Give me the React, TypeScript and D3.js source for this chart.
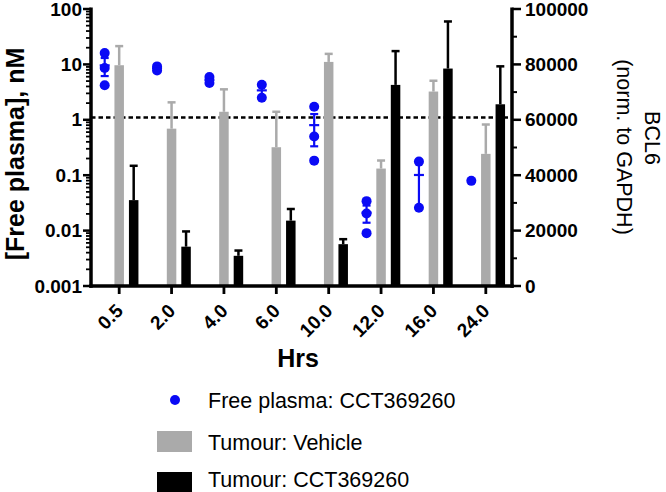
import React from "react";
import * as d3 from "d3";

const categories = ["0.5", "2.0", "4.0", "6.0", "10.0", "12.0", "16.0", "24.0"];
const plasmaValues: number[][] = [
  [16, 8.6, 4.2],
  [9.2, 7.8],
  [5.9, 4.6],
  [4.3, 2.5],
  [1.72, 0.5, 0.183],
  [0.034, 0.0203, 0.009],
  [0.176, 0.0258],
  [0.079],
];
const vehicleMean = [79700, 56800, 62900, 50100, 80900, 42400, 70200, 47700];
const vehicleSem = [6900, 9500, 8100, 12800, 2900, 2900, 3900, 10600];
const cctMean = [31000, 14200, 10900, 23600, 15100, 72600, 78500, 65600];
const cctSem = [12400, 5500, 1900, 4200, 1800, 12200, 17000, 13700];
const leftTicks = [0.001, 0.01, 0.1, 1, 10, 100];
const leftTickLabels = ["0.001", "0.01", "0.1", "1", "10", "100"];
const rightTicks = [0, 20000, 40000, 60000, 80000, 100000];
const rightMinor = [10000, 30000, 50000, 70000, 90000];
const threshold = 1.1;
const legendLabels = ["Free plasma: CCT369260", "Tumour: Vehicle", "Tumour: CCT369260"];

const W = 666, H = 492;
const BLUE = "#0a0af5";
const GRAY = "#aaaaaa";
const FONT = "'Liberation Sans', Arial, sans-serif";

export default function App() {
  const x = d3.scaleBand<string>().domain(categories).range([93, 512]);
  const yL = d3.scaleLog().domain([0.001, 100]).range([286, 9]);
  const yR = d3.scaleLinear().domain([0, 100000]).range([286, 9]);
  const cx = (c: string) => (x(c) as number) + x.bandwidth() / 2;
  const axL = 91, axR = 512, axB = 286;
  const barW = 9.5, off = 14.5;

  const minorLeft: number[] = [];
  for (let e = -3; e < 2; e++) for (let m = 2; m <= 9; m++) minorLeft.push(m * Math.pow(10, e));

  return (
    <svg width={W} height={H} style={{ position: "absolute", left: 0, top: 0, background: "#fff" }} fontFamily={FONT}>
      <rect width={W} height={H} fill="#fff" />
      {/* dashed threshold */}
      <line x1={axL} x2={axR} y1={yL(threshold)} y2={yL(threshold)} stroke="#000" strokeWidth={2.6} strokeDasharray="4.5 3" />
      {/* bars */}
      {categories.map((c, i) => {
        const gx = cx(c), bx = cx(c) + off;
        const gTop = yR(vehicleMean[i]), gErr = yR(vehicleMean[i] + vehicleSem[i]);
        const bTop = yR(cctMean[i]), bErr = yR(cctMean[i] + cctSem[i]);
        return (
          <g key={c}>
            <line x1={gx} x2={gx} y1={gTop} y2={gErr} stroke={GRAY} strokeWidth={2.5} />
            <line x1={gx - 4} x2={gx + 4} y1={gErr} y2={gErr} stroke={GRAY} strokeWidth={2.5} />
            <rect x={gx - barW / 2} y={gTop} width={barW} height={axB - gTop} fill={GRAY} />
            <line x1={bx} x2={bx} y1={bTop} y2={bErr} stroke="#000" strokeWidth={2.5} />
            <line x1={bx - 4} x2={bx + 4} y1={bErr} y2={bErr} stroke="#000" strokeWidth={2.5} />
            <rect x={bx - barW / 2} y={bTop} width={barW} height={axB - bTop} fill="#000" />
          </g>
        );
      })}
      {/* plasma dots */}
      {categories.map((c, i) => {
        const px = cx(c) - off;
        const vals = plasmaValues[i];
        const n = vals.length;
        let err = null;
        if (n > 1) {
          const mean = d3.mean(vals) as number;
          const sem = (d3.deviation(vals) as number) / Math.sqrt(n);
          const lo = Math.max(mean - sem, 0.0011);
          const hi = mean + sem;
          err = (
            <g stroke={BLUE} strokeWidth={2.2}>
              <line x1={px} x2={px} y1={yL(lo)} y2={yL(hi)} />
              <line x1={px - 4} x2={px + 4} y1={yL(lo)} y2={yL(lo)} />
              <line x1={px - 4} x2={px + 4} y1={yL(hi)} y2={yL(hi)} />
              <line x1={px - 5} x2={px + 5} y1={yL(mean)} y2={yL(mean)} />
            </g>
          );
        }
        return (
          <g key={c}>
            {vals.map((v, j) => (
              <circle key={j} cx={px} cy={yL(v)} r={5} fill={BLUE} />
            ))}
            {err}
          </g>
        );
      })}
      {/* left axis */}
      <line x1={axL} x2={axL} y1={yL(100) - 1.5} y2={axB + 1.7} stroke="#000" strokeWidth={3.5} />
      {leftTicks.map((t, i) => (
        <g key={t}>
          <line x1={axL - 8} x2={axL} y1={yL(t)} y2={yL(t)} stroke="#000" strokeWidth={2.5} />
          <text x={axL - 9} y={yL(t)} dy="0.35em" textAnchor="end" fontSize={19} fontWeight="bold">{leftTickLabels[i]}</text>
        </g>
      ))}
      {minorLeft.map((t) => (
        <line key={t} x1={axL - 5} x2={axL} y1={yL(t)} y2={yL(t)} stroke="#000" strokeWidth={1.8} />
      ))}
      {/* right axis */}
      <line x1={axR} x2={axR} y1={yR(100000) - 1.5} y2={axB + 1.7} stroke="#000" strokeWidth={3.5} />
      {rightTicks.map((t) => (
        <g key={t}>
          <line x1={axR} x2={axR + 9} y1={yR(t)} y2={yR(t)} stroke="#000" strokeWidth={2.5} />
          <text x={axR + 13} y={yR(t)} dy="0.35em" textAnchor="start" fontSize={19} fontWeight="bold">{d3.format("d")(t)}</text>
        </g>
      ))}
      {rightMinor.map((t) => (
        <line key={t} x1={axR} x2={axR + 5} y1={yR(t)} y2={yR(t)} stroke="#000" strokeWidth={2} />
      ))}
      {/* bottom axis */}
      <line x1={axL - 1.7} x2={axR + 1.7} y1={axB} y2={axB} stroke="#000" strokeWidth={3.5} />
      {categories.map((c) => (
        <g key={c}>
          <line x1={cx(c)} x2={cx(c)} y1={axB} y2={axB + 8} stroke="#000" strokeWidth={2.8} />
          <text transform={`translate(${cx(c) + 5},${axB + 26}) rotate(-45)`} textAnchor="end" fontSize={19} fontWeight="bold">{c}</text>
        </g>
      ))}
      {/* titles */}
      <text transform="translate(15,154) rotate(-90)" textAnchor="middle" dy="0.35em" fontSize={25} fontWeight="bold">[Free plasma], nM</text>
      <text transform="translate(653,138) rotate(90)" textAnchor="middle" dy="0.35em" fontSize={21.5}>BCL6</text>
      <text transform="translate(625,147) rotate(90)" textAnchor="middle" dy="0.35em" fontSize={21.5}>(norm. to GAPDH)</text>
      <text x={298} y={358} dy="0.35em" textAnchor="middle" fontSize={25} fontWeight="bold">Hrs</text>
      {/* legend */}
      <circle cx={175} cy={400} r={5} fill={BLUE} />
      <rect x={157} y={431} width={35} height={21} fill={GRAY} />
      <rect x={157} y={472} width={35} height={22} fill="#000" />
      {legendLabels.map((l, i) => (
        <text key={l} x={208} y={[400, 442, 479][i]} dy="0.35em" fontSize={21.5}>{l}</text>
      ))}
    </svg>
  );
}
